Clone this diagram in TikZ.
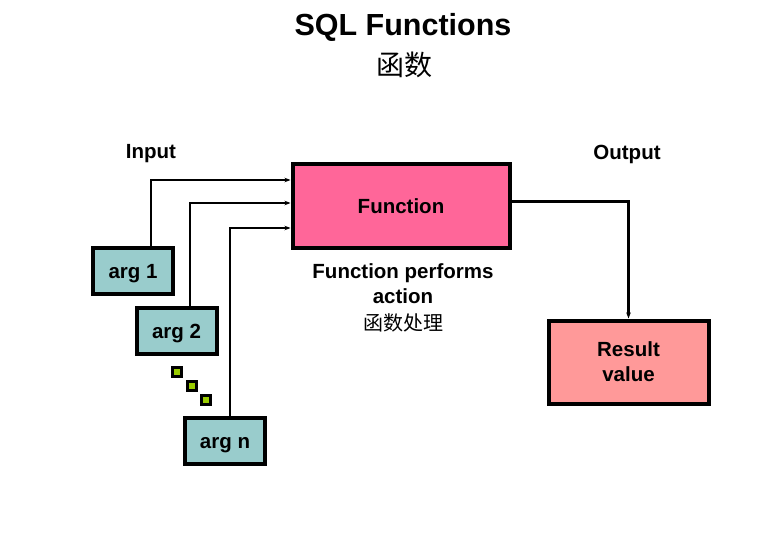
\documentclass[tikz,border=0pt]{standalone}
\usepackage{fontspec}
\setmainfont{Liberation Sans}
\newfontfamily\cjk{Noto Sans CJK SC}
\usetikzlibrary{calc, arrows.meta}

\begin{document}
\begin{tikzpicture}[x=1pt, y=1pt,
    box/.style={draw=black, line width=4pt, font=\fontsize{20.5}{25}\selectfont\bfseries, align=center, inner sep=0pt},
    argbox/.style={box, fill=argColour, minimum width=80pt, minimum height=46pt, text height=15pt, text depth=0pt},
    wire/.style={line width=2.2pt, -{Stealth[length=6pt, width=4.5pt]}},
    label/.style={font=\fontsize{20.5}{25}\selectfont\bfseries},
    dot/.style={draw=black, line width=3pt, fill=dotColour, minimum size=9pt, inner sep=0pt}]

    \definecolor{funcColour}{HTML}{FF6699}
    \definecolor{argColour}{HTML}{99CCCC}
    \definecolor{resultColour}{HTML}{FF9999}
    \definecolor{dotColour}{HTML}{99CC00}

    % Fix the page size
    \useasboundingbox (0,0) rectangle (781,-535);

    % Title
    \node (title) at (403,-27) {\fontsize{30.5}{34}\selectfont\bfseries SQL Functions};
    \node (titlecn) at (404,-65) {\fontsize{28}{30}\selectfont\cjk 函数};

    % Labels
    \node[label] (input) at (151,-154) {Input};
    \node[label] (output) at (627,-154) {Output};

    % Function box and its caption
    \node[box, fill=funcColour, minimum width=217pt, minimum height=84pt, text height=15pt, text depth=0pt] (func) at (401,-205.5) {Function};
    \node[label, align=center] (action) at (403,-284) {Function performs\\action};
    \node (actioncn) at (403,-323) {\fontsize{20}{22}\selectfont\cjk 函数处理};

    % Arguments
    \node[argbox] (arg1) at (133,-271) {arg 1};
    \node[argbox] (arg2) at (176.5,-331) {arg 2};
    \node[argbox] (argn) at (225,-440.5) {arg n};

    % Dots between arg 2 and arg n
    \foreach \i/\x/\y in {1/177/372, 2/192/386, 3/206/400}
        \node[dot] (dot\i) at (\x,-\y) {};

    % Result box
    \node[box, fill=resultColour, minimum width=160pt, minimum height=83pt] (result) at (628.5,-362) {Result\\value};

    % Entry points on the function box
    \coordinate (in1) at ($(func.west)+(0,25.5)$);
    \coordinate (in2) at ($(func.west)+(0,2.5)$);
    \coordinate (in3) at ($(func.west)+(0,-22.5)$);

    % Connectors
    \draw[wire] ($(arg1.north)+(18,0)$) |- (in1);
    \draw[wire] ($(arg2.north)+(13.5,0)$) |- (in2);
    \draw[wire] ($(argn.north)+(5,0)$) |- (in3);
    \draw[wire] ($(func.east)+(0,4)$) -| (result.north);

\end{tikzpicture}
\end{document}
